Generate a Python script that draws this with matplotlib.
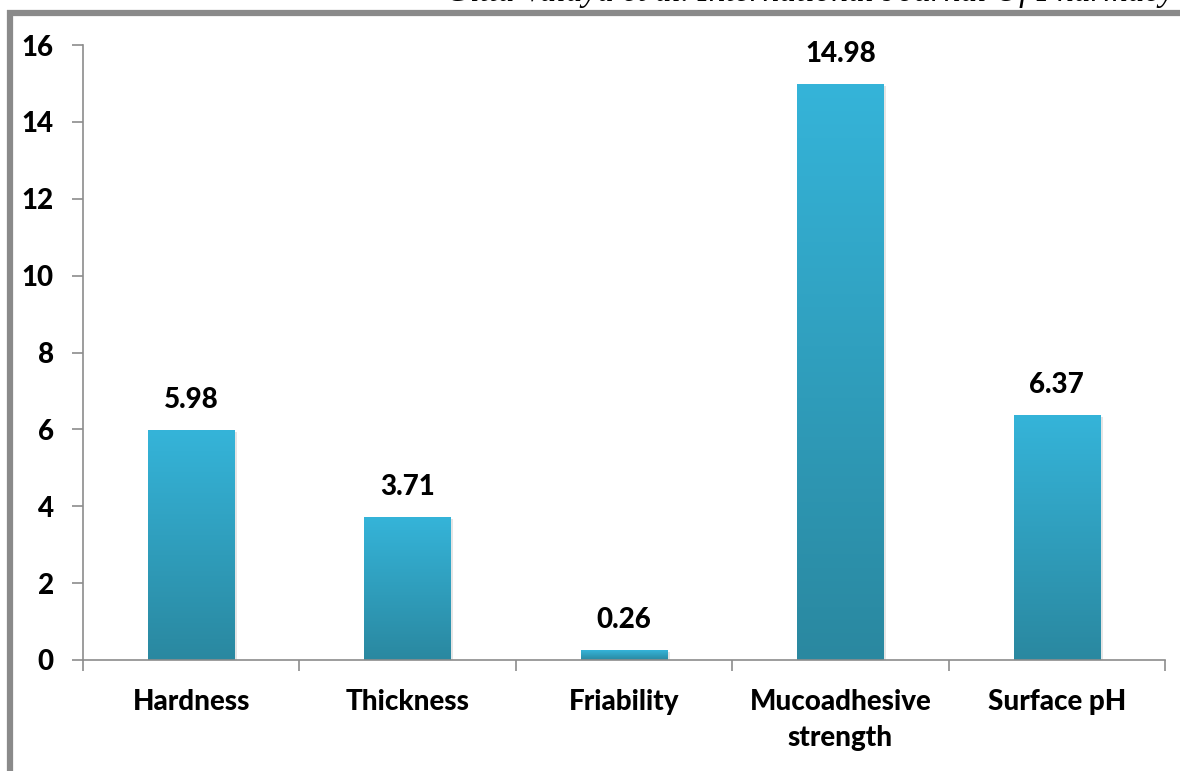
import numpy as np
import matplotlib.pyplot as plt
from matplotlib.colors import LinearSegmentedColormap
from matplotlib.lines import Line2D

categories = ["Hardness", "Thickness", "Friability", "Mucoadhesive\nstrength", "Surface pH"]
values = [5.98, 3.71, 0.26, 14.98, 6.37]
value_labels = ["5.98", "3.71", "0.26", "14.98", "6.37"]
y_ticks = [0, 2, 4, 6, 8, 10, 12, 14, 16]
header = "Gitta Vaidya et al. International Journal Of Pharmacy"

plt.rcParams["font.family"] = ["Lato", "DejaVu Sans"]
FS = 20

fig = plt.figure(figsize=(11.8, 7.71), dpi=100)
ax = fig.add_axes([0.0703, 0.1440, 0.9170, 0.7976])

# bars: light cyan at the top fading to teal at the base
grad = LinearSegmentedColormap.from_list("bar", ["#2a88a0", "#35b4d9"])
x = np.arange(len(categories))
bars = ax.bar(x, values, width=0.4, color="none", edgecolor="none", zorder=2)
ramp = np.linspace(0, 1, 256).reshape(-1, 1)
for b in bars:
    x0, w, h = b.get_x(), b.get_width(), b.get_height()
    # soft drop shadow on the right side
    ax.bar(x0 + w / 2 + 0.012, h, width=w, bottom=-0.04, color="#000000",
           alpha=0.10, zorder=1)
    ax.imshow(ramp, cmap=grad, origin="lower", aspect="auto",
              extent=(x0, x0 + w, 0, h), zorder=2)

for xi, v, lab in zip(x, values, value_labels):
    ax.text(xi, v + 0.45, lab, ha="center", va="bottom",
            fontsize=FS, fontweight="black", color="#000000")

ax.set_xlim(-0.5, len(categories) - 0.5)
ax.set_ylim(0, 16)
ax.set_yticks(y_ticks)
ax.set_yticklabels([str(t) for t in y_ticks], fontsize=FS, fontweight="black")
ax.set_xticks(np.arange(len(categories) + 1) - 0.5, minor=False)
ax.set_xticklabels([])
ax.set_xticks(x, minor=True)
ax.set_xticklabels(categories, minor=True, fontsize=FS, fontweight="black",
                   linespacing=1.45, va="top")
ax.tick_params(axis="x", which="minor", length=0, pad=21)
ax.tick_params(axis="x", which="major", length=8, width=1.2, color="#8c8c8c",
               direction="out")
ax.tick_params(axis="y", length=8, width=1.2, color="#8c8c8c", pad=13)

for side in ("top", "right"):
    ax.spines[side].set_visible(False)
for side in ("left", "bottom"):
    ax.spines[side].set_color("#8c8c8c")
    ax.spines[side].set_linewidth(1.2)

# page frame and running header
W, H = 1180, 771
fig.add_artist(Line2D([7 / W, 1.0], [1 - 13 / H, 1 - 13 / H], color="#8a8a8a",
                      lw=4.5, solid_capstyle="butt"))
fig.add_artist(Line2D([10 / W, 10 / W], [1 - 10 / H, 0.0], color="#8a8a8a",
                      lw=4.5, solid_capstyle="butt"))
fig.text(1 - 6 / W, 1 - 1 / H, header, ha="right", va="baseline",
         fontsize=24, style="italic", family="Liberation Serif", color="#000000")

fig.savefig("out.png", dpi=100)
